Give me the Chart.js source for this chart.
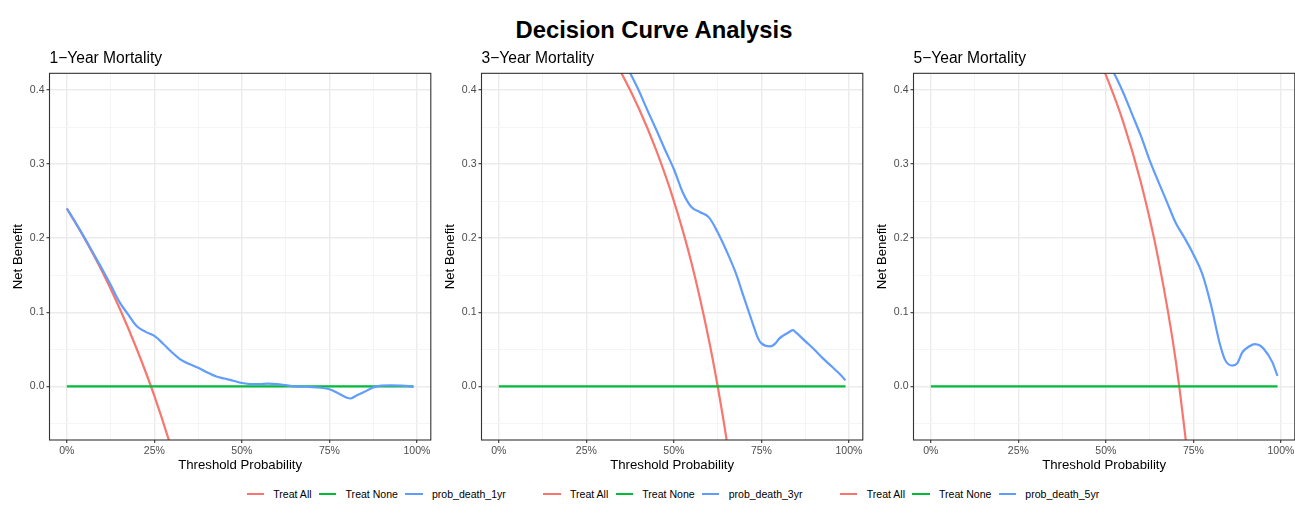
<!DOCTYPE html>
<html>
<head>
<meta charset="utf-8">
<title>Decision Curve Analysis</title>
<script src="https://cdn.jsdelivr.net/npm/chart.js@4.4.1/dist/chart.umd.min.js"></script>
<style>
  html, body { margin: 0; padding: 0; background: #fff; overflow: hidden; }
  body { width: 1295px; height: 510px; position: relative; font-family: "Liberation Sans", Arial, sans-serif; }
  #title { position: absolute; left: 0; top: 15.6px; width: 1308px; text-align: center;
           font-weight: bold; font-size: 23.8px; line-height: 27px; color: #000; }
  canvas { position: absolute; top: 40px; }
  #legend { position: absolute; left: 246.7px; top: 485px; height: 18px; display: flex;
            align-items: center; gap: 37.6px; font-size: 10.56px; color: #000; }
  .group { display: flex; align-items: center; gap: 7.4px; }
  .item { display: flex; align-items: center; }
  .key { width: 17.3px; height: 2.2px; margin-right: 9.3px; }
</style>
</head>
<body>
<div id="title">Decision Curve Analysis</div>
<canvas id="dca1" width="432" height="440" style="left:0px"></canvas>
<canvas id="dca3" width="432" height="440" style="left:432px"></canvas>
<canvas id="dca5" width="432" height="440" style="left:864px"></canvas>
<div id="legend"></div>

<script>
// axis breaks (major + minor)
const thresholdTicks = [0, 0.125, 0.25, 0.375, 0.5, 0.625, 0.75, 0.875, 1];
const benefitTicks = [-0.05, 0, 0.05, 0.1, 0.15, 0.2, 0.25, 0.3, 0.35, 0.4];

// treat none
const nonePt = [0, 0.99];
const noneNb = [0, 0];

// 1-year
const allPt1 = [0, 0.05, 0.10, 0.15, 0.20, 0.25, 0.30, 0.35];
const allNb1 = [0.240, 0.200, 0.156, 0.106, 0.050, -0.013, -0.086, -0.169];
const modelPt1 = [0, 0.025, 0.05, 0.075, 0.10, 0.125, 0.15, 0.175, 0.20, 0.225, 0.25, 0.275, 0.30,
                  0.325, 0.35, 0.375, 0.40, 0.425, 0.45, 0.475, 0.50, 0.525, 0.55, 0.575, 0.60,
                  0.625, 0.65, 0.675, 0.70, 0.725, 0.75, 0.775, 0.80, 0.81, 0.825, 0.85, 0.875,
                  0.90, 0.925, 0.95, 0.975, 0.99];
const modelNb1 = [0.240, 0.221, 0.201, 0.180, 0.159, 0.137, 0.114, 0.097, 0.081, 0.0735, 0.068, 0.0575, 0.046,
                  0.036, 0.030, 0.025, 0.019, 0.0135, 0.0105, 0.0075, 0.0045, 0.003, 0.003, 0.0035, 0.003,
                  0.0015, 0.0, -0.0005, -0.001, -0.002, -0.004, -0.0095, -0.0155, -0.0165, -0.013, -0.0075, -0.0015,
                  0.001, 0.0012, 0.001, 0.0003, -0.001];

// 3-year
const allPt3 = [0, 0.10, 0.20, 0.25, 0.30, 0.35, 0.40, 0.45, 0.50, 0.55, 0.60, 0.625, 0.65, 0.70];
const allNb3 = [0.625, 0.583, 0.531, 0.500, 0.464, 0.423, 0.375, 0.318, 0.250, 0.167, 0.0625, 0.0, -0.071, -0.250];
const modelPt3 = [0, 0.10, 0.20, 0.30, 0.35, 0.375, 0.40, 0.425, 0.45, 0.475, 0.50, 0.525, 0.55, 0.575,
                  0.60, 0.625, 0.65, 0.675, 0.70, 0.725, 0.74, 0.75, 0.775, 0.79, 0.80, 0.825, 0.84,
                  0.85, 0.875, 0.90, 0.925, 0.95, 0.975, 0.99];
const modelNb3 = [0.625, 0.585, 0.537, 0.482, 0.447, 0.423, 0.399, 0.372, 0.346, 0.319, 0.293, 0.262, 0.242, 0.235,
                  0.228, 0.208, 0.183, 0.155, 0.120, 0.085, 0.065, 0.058, 0.054, 0.058, 0.064, 0.072, 0.0757,
                  0.072, 0.061, 0.050, 0.038, 0.027, 0.016, 0.008];

// 5-year
const allPt5 = [0, 0.10, 0.20, 0.30, 0.40, 0.45, 0.50, 0.55, 0.60, 0.65, 0.70, 0.75];
const allNb5 = [0.710, 0.678, 0.638, 0.586, 0.517, 0.473, 0.420, 0.356, 0.275, 0.171, 0.033, -0.160];
const modelPt5 = [0, 0.10, 0.20, 0.30, 0.40, 0.45, 0.50, 0.525, 0.55, 0.575, 0.60, 0.625, 0.65, 0.675,
                  0.70, 0.725, 0.75, 0.775, 0.80, 0.825, 0.84, 0.86, 0.875, 0.89, 0.91, 0.925, 0.94,
                  0.95, 0.975, 0.99];
const modelNb5 = [0.710, 0.680, 0.642, 0.592, 0.527, 0.487, 0.441, 0.421, 0.396, 0.367, 0.338, 0.305, 0.276, 0.248,
                  0.220, 0.200, 0.178, 0.152, 0.110, 0.058, 0.036, 0.028, 0.031, 0.046, 0.054, 0.057, 0.055,
                  0.051, 0.033, 0.014];

const RED = '#F8766D', GREEN = '#00BA38', BLUE = '#619CFF';

Chart.defaults.font.family = '"Liberation Sans", Arial, sans-serif';

const isMajorX = v => Math.abs(v * 4 - Math.round(v * 4)) < 1e-9;
const isMajorY = v => Math.abs(v * 10 - Math.round(v * 10)) < 1e-9;
const toPoints = (xs, ys) => xs.map((x, i) => ({ x: x, y: ys[i] }));

// theme_bw style frame round the panel
const panelBorder = {
  id: 'panelBorder',
  afterDraw(chart) {
    const { ctx, chartArea: a } = chart;
    ctx.save();
    ctx.strokeStyle = '#333333';
    ctx.lineWidth = 1.1;
    ctx.strokeRect(a.left, a.top, a.right - a.left, a.bottom - a.top);
    ctx.restore();
  }
};

function curve(label, color, xs, ys, order) {
  return {
    label: label,
    data: toPoints(xs, ys),
    borderColor: color,
    backgroundColor: color,
    borderWidth: 2.2,
    pointRadius: 0,
    cubicInterpolationMode: 'monotone',
    clip: 0,
    order: order
  };
}

function makePanel(id, title, modelName, allPt, allNb, modelPt, modelNb, padRight) {
  return new Chart(document.getElementById(id), {
    type: 'line',
    data: {
      datasets: [
        curve('Treat All', RED, allPt, allNb, 2),
        curve('Treat None', GREEN, nonePt, noneNb, 1),
        curve(modelName, BLUE, modelPt, modelNb, 0)
      ]
    },
    options: {
      responsive: false,
      animation: false,
      devicePixelRatio: 1,
      events: [],
      layout: { padding: { left: 0, right: padRight, top: 0, bottom: 0 }, autoPadding: false },
      plugins: {
        legend: { display: false },
        tooltip: { enabled: false },
        title: {
          display: true, text: title, align: 'start', fullSize: false,
          color: '#000', font: { size: 15.6, weight: 'normal' },
          padding: { top: 9, bottom: 5.6 }
        }
      },
      scales: {
        x: {
          type: 'linear', min: -0.0495, max: 1.0395,
          afterBuildTicks: s => { s.ticks = thresholdTicks.map(v => ({ value: v })); },
          afterFit: s => { s.height = 40; },
          border: { display: false },
          grid: {
            color: c => isMajorX(c.tick.value) ? '#ebebeb' : '#f3f3f3',
            lineWidth: c => isMajorX(c.tick.value) ? 1.4 : 0.8,
            tickColor: c => isMajorX(c.tick.value) ? '#333333' : 'rgba(0,0,0,0)',
            tickLength: 3, tickWidth: 1.1
          },
          ticks: {
            autoSkip: false, maxRotation: 0, padding: 1.5, color: '#4d4d4d', font: { size: 10.56 },
            callback: v => isMajorX(v) ? Math.round(v * 100) + '%' : ''
          },
          title: {
            display: true, text: 'Threshold Probability', color: '#000', font: { size: 13.2 },
            padding: { top: 0, bottom: 7.1 }
          }
        },
        y: {
          type: 'linear', min: -0.0725, max: 0.4225,
          afterBuildTicks: s => { s.ticks = benefitTicks.map(v => ({ value: v })); },
          afterFit: s => { s.width = 49.5; },
          border: { display: false },
          grid: {
            color: c => isMajorY(c.tick.value) ? '#ebebeb' : '#f3f3f3',
            lineWidth: c => isMajorY(c.tick.value) ? 1.4 : 0.8,
            tickColor: c => isMajorY(c.tick.value) ? '#333333' : 'rgba(0,0,0,0)',
            tickLength: 3, tickWidth: 1.1
          },
          ticks: {
            autoSkip: false, padding: 2, color: '#4d4d4d', font: { size: 10.56 },
            callback: v => isMajorY(v) ? v.toFixed(1) : ''
          },
          title: {
            display: true, text: 'Net Benefit', color: '#000', font: { size: 13.2 },
            padding: { top: 10.4, bottom: 0 }
          }
        }
      }
    },
    plugins: [panelBorder]
  });
}

const panels = [
  makePanel('dca1', '1\u2212Year Mortality', 'prob_death_1yr', allPt1, allNb1, modelPt1, modelNb1, 1),
  makePanel('dca3', '3\u2212Year Mortality', 'prob_death_3yr', allPt3, allNb3, modelPt3, modelNb3, 1),
  makePanel('dca5', '5\u2212Year Mortality', 'prob_death_5yr', allPt5, allNb5, modelPt5, modelNb5, 0.5)
];

// one legend box per panel, laid side by side under the panels
const legend = document.getElementById('legend');
panels.forEach(chart => {
  const group = document.createElement('div');
  group.className = 'group';
  chart.data.datasets.forEach(ds => {
    const item = document.createElement('div');
    item.className = 'item';
    const key = document.createElement('span');
    key.className = 'key';
    key.style.background = ds.borderColor;
    const text = document.createElement('span');
    text.textContent = ds.label;
    item.appendChild(key);
    item.appendChild(text);
    group.appendChild(item);
  });
  legend.appendChild(group);
});
</script>
</body>
</html>
